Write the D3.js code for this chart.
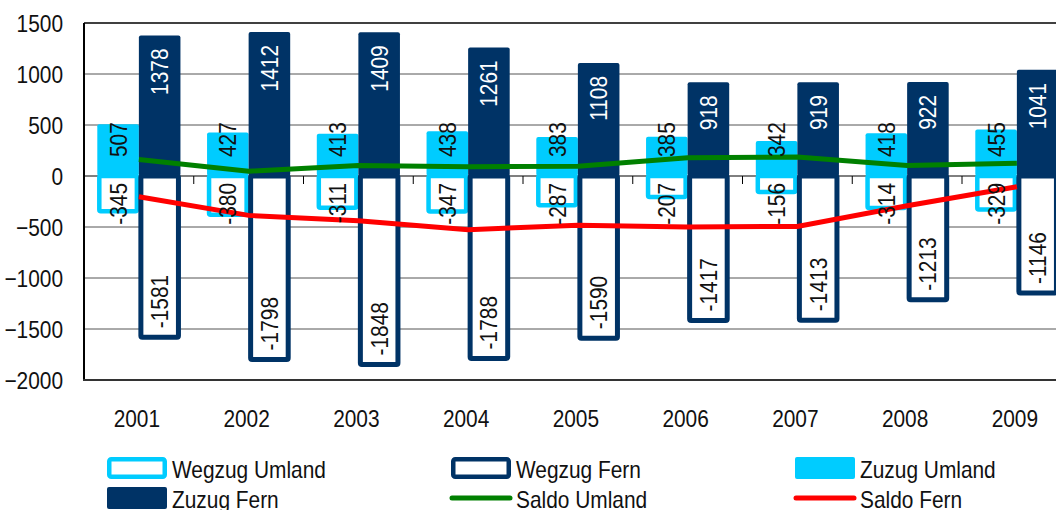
<!DOCTYPE html>
<html>
<head>
<meta charset="utf-8">
<script src="https://cdnjs.cloudflare.com/ajax/libs/d3/7.8.5/d3.min.js"></script>
<style>
  body { margin: 0; background: #fff; }
  svg text { font-family: "Liberation Sans", Arial, sans-serif; fill: #111; }
</style>
</head>
<body>
<script>

var years = ["2001", "2002", "2003", "2004", "2005", "2006", "2007", "2008", "2009"];
var zuzugUmland = [507, 427, 413, 438, 383, 385, 342, 418, 455];
var zuzugFern = [1378, 1412, 1409, 1261, 1108, 918, 919, 922, 1041];
var wegzugUmland = [-345, -380, -311, -347, -287, -207, -156, -314, -329];
var wegzugFern = [-1581, -1798, -1848, -1788, -1590, -1417, -1413, -1213, -1146];
var saldoUmland = [162, 47, 102, 91, 96, 178, 186, 104, 126];
var saldoFern = [-203, -386, -439, -527, -482, -499, -494, -291, -105];
var yTicks = [1500, 1000, 500, 0, -500, -1000, -1500, -2000];

var cyan = "#00ccff",
    navy = "#003366",
    green = "#008000",
    red = "#ff0000";

var narrow = " scale(0.87,1)";   // condensed look, no narrow font installed

var width = 1056, height = 510;
var margin = {top: 23, left: 84, bottom: 380};
var plotRight = margin.left + 9 * 109.75;

var svg = d3.select("body").append("svg")
  .attr("width", width)
  .attr("height", height);

var x = d3.scaleBand()
  .domain(years)
  .range([margin.left, plotRight]);

var xSub = d3.scaleBand()
  .domain(["umland", "fern"])
  .range([0, x.bandwidth()])
  .paddingOuter(0.32);

var y = d3.scaleLinear()
  .domain([-2000, 1500])
  .range([margin.bottom, margin.top]);

// grid
svg.append("g").selectAll("line")
  .data(yTicks.filter(function(d) { return d !== 0 && d !== -2000; }))
  .enter().append("line")
  .attr("x1", margin.left).attr("x2", plotRight)
  .attr("y1", function(d) { return y(d); })
  .attr("y2", function(d) { return y(d); })
  .attr("stroke", function(d) { return d === 1500 ? "#000" : "#555"; })
  .attr("stroke-width", function(d) { return d === 1500 ? 1.5 : 1; });

var yAxis = d3.axisLeft(y).tickValues(yTicks).tickSize(0).tickFormat(d3.format("d"));
var gy = svg.append("g")
  .attr("transform", "translate(" + margin.left + ",0)")
  .call(yAxis);
gy.select(".domain").remove();
gy.selectAll("text")
  .attr("x", 0)
  .attr("dy", "0.36em")
  .attr("font-size", 24)
  .attr("transform", "translate(-21,0)" + narrow);

// zero line with category ticks
svg.append("line")
  .attr("x1", margin.left).attr("x2", plotRight)
  .attr("y1", y(0)).attr("y2", y(0))
  .attr("stroke", "#000").attr("stroke-width", 1);

svg.append("g").selectAll("line")
  .data(years.slice(1))
  .enter().append("line")
  .attr("x1", function(d) { return x(d); })
  .attr("x2", function(d) { return x(d); })
  .attr("y1", y(0)).attr("y2", y(0) + 8)
  .attr("stroke", "#000");

function rows(vals, key) {
  return years.map(function(yr, i) { return {year: yr, v: vals[i], key: key}; });
}

// filled bars (Zuzug)
svg.append("g").selectAll("rect")
  .data(rows(zuzugUmland, "umland").concat(rows(zuzugFern, "fern")))
  .enter().append("rect")
  .attr("x", function(d) { return x(d.year) + xSub(d.key); })
  .attr("y", function(d) { return y(d.v); })
  .attr("width", xSub.bandwidth())
  .attr("height", function(d) { return y(0) - y(d.v); })
  .attr("rx", 2)
  .attr("fill", function(d) { return d.key === "umland" ? cyan : navy; });

// outline bars (Wegzug)
svg.append("g").selectAll("rect")
  .data(rows(wegzugUmland, "umland").concat(rows(wegzugFern, "fern")))
  .enter().append("rect")
  .attr("x", function(d) { return x(d.year) + xSub(d.key) + 2; })
  .attr("y", y(0))
  .attr("width", xSub.bandwidth() - 4)
  .attr("height", function(d) { return y(d.v) - y(0); })
  .attr("rx", 1.5)
  .attr("fill", "#fff")
  .attr("stroke", function(d) { return d.key === "umland" ? cyan : navy; })
  .attr("stroke-width", function(d) { return d.key === "umland" ? 4.5 : 5; });

// axes frame
svg.append("line")
  .attr("x1", margin.left).attr("x2", margin.left)
  .attr("y1", margin.top).attr("y2", margin.bottom + 1)
  .attr("stroke", "#000").attr("stroke-width", 2);
svg.append("line")
  .attr("x1", margin.left - 1).attr("x2", plotRight)
  .attr("y1", margin.bottom).attr("y2", margin.bottom)
  .attr("stroke", "#333").attr("stroke-width", 2);

// saldo lines
var line = d3.line()
  .x(function(d, i) { return x(years[i]) + x.bandwidth() / 2; })
  .y(function(d) { return y(d); });

svg.append("path").datum(saldoUmland)
  .attr("d", line).attr("fill", "none")
  .attr("stroke", green).attr("stroke-width", 5);
svg.append("path").datum(saldoFern)
  .attr("d", line).attr("fill", "none")
  .attr("stroke", red).attr("stroke-width", 5);

// value labels (rotated)
function label(vals, key, color, anchor, posFn) {
  svg.append("g").selectAll("text")
    .data(rows(vals, key))
    .enter().append("text")
    .attr("transform", function(d) {
      var cx = x(d.year) + xSub(d.key) + xSub.bandwidth() / 2 + 8.5;
      return "translate(" + cx + "," + posFn(d) + ") rotate(-90)" + narrow;
    })
    .attr("text-anchor", anchor)
    .attr("font-size", 24)
    .style("fill", color)
    .text(function(d) { return d.v; });
}

label(zuzugUmland, "umland", "#111", "start", function(d) { return y(0) - 19; });
label(zuzugFern, "fern", "#fff", "end", function(d) { return y(d.v) + 13; });
label(wegzugUmland, "umland", "#111", "end", function(d) { return y(0) + 7; });
label(wegzugFern, "fern", "#111", "start", function(d) { return y(d.v) - 9; });

// x labels
svg.append("g").selectAll("text")
  .data(years)
  .enter().append("text")
  .attr("transform", function(d) {
    return "translate(" + (x(d) + x.bandwidth() / 2 - 2) + ",427)" + narrow;
  })
  .attr("text-anchor", "middle")
  .attr("font-size", 24)
  .text(function(d) { return d; });

// legend
var legendItems = [
  {name: "Wegzug Umland", type: "outline", color: cyan},
  {name: "Wegzug Fern", type: "outline", color: navy},
  {name: "Zuzug Umland", type: "fill", color: cyan},
  {name: "Zuzug Fern", type: "fill", color: navy},
  {name: "Saldo Umland", type: "line", color: green},
  {name: "Saldo Fern", type: "line", color: red}
];
var legendCols = [107, 451, 795];
var legendRows = [457, 487];

var lg = svg.append("g").selectAll("g")
  .data(legendItems)
  .enter().append("g")
  .attr("transform", function(d, i) {
    return "translate(" + legendCols[i % 3] + "," + legendRows[Math.floor(i / 3)] + ")";
  });

lg.filter(function(d) { return d.type === "outline"; }).append("rect")
  .attr("x", 2.25).attr("y", 2.25).attr("width", 55.5).attr("height", 17.5)
  .attr("rx", 2)
  .attr("fill", "#fff").attr("stroke", function(d) { return d.color; })
  .attr("stroke-width", 4.5);

lg.filter(function(d) { return d.type === "fill"; }).append("rect")
  .attr("width", 60).attr("height", 22)
  .attr("rx", 2)
  .attr("fill", function(d) { return d.color; });

lg.filter(function(d) { return d.type === "line"; }).append("line")
  .attr("x1", 1).attr("x2", 59).attr("y1", 11).attr("y2", 11)
  .attr("stroke", function(d) { return d.color; })
  .attr("stroke-width", 5).attr("stroke-linecap", "round");

lg.append("text")
  .attr("transform", "translate(65,21)" + narrow)
  .attr("font-size", 24)
  .text(function(d) { return d.name; });

</script>
</body>
</html>
